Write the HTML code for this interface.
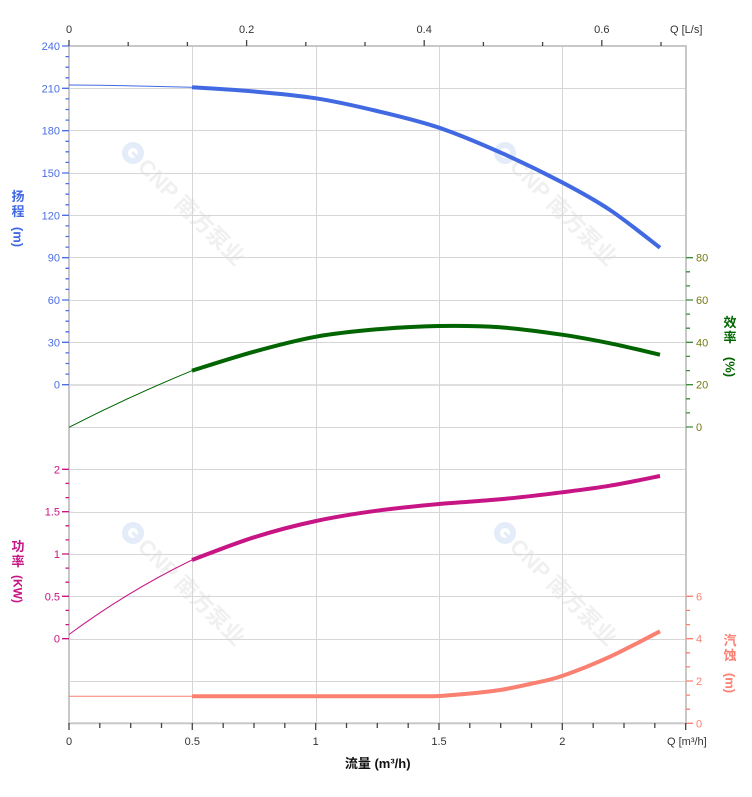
<!DOCTYPE html>
<html><head><meta charset="utf-8"><style>
html,body{margin:0;padding:0;background:#fff;}
svg{display:block;font-family:"Liberation Sans","Noto Sans CJK SC",sans-serif;}
</style></head><body>
<svg width="752" height="797" viewBox="0 0 752 797" xmlns="http://www.w3.org/2000/svg">
<rect width="752" height="797" fill="#fff"/>

<!-- watermarks -->
<g>
<g transform="translate(133,153) rotate(45)"><circle r="11" fill="#e3ecf8"/><circle r="5" fill="#fff"/><rect x="-1" y="-1.5" width="7" height="3" fill="#e3ecf8"/><text x="13" y="8" font-size="22" font-weight="bold" fill="#f0f0f0">CNP 南方泵业</text></g>
<g transform="translate(505,153) rotate(45)"><circle r="11" fill="#e3ecf8"/><circle r="5" fill="#fff"/><rect x="-1" y="-1.5" width="7" height="3" fill="#e3ecf8"/><text x="13" y="8" font-size="22" font-weight="bold" fill="#f0f0f0">CNP 南方泵业</text></g>
<g transform="translate(133,533) rotate(45)"><circle r="11" fill="#e3ecf8"/><circle r="5" fill="#fff"/><rect x="-1" y="-1.5" width="7" height="3" fill="#e3ecf8"/><text x="13" y="8" font-size="22" font-weight="bold" fill="#f0f0f0">CNP 南方泵业</text></g>
<g transform="translate(505,533) rotate(45)"><circle r="11" fill="#e3ecf8"/><circle r="5" fill="#fff"/><rect x="-1" y="-1.5" width="7" height="3" fill="#e3ecf8"/><text x="13" y="8" font-size="22" font-weight="bold" fill="#f0f0f0">CNP 南方泵业</text></g>
</g>

<!-- grid -->
<g stroke="#d6d6d6" stroke-width="1" fill="none">
<path d="M69,88.5H686M69,130.5H686M69,173.5H686M69,215.5H686M69,257.5H686M69,300.5H686M69,342.5H686M69,427.5H686M69,469.5H686M69,512.5H686M69,554.5H686M69,596.5H686M69,639.5H686M69,681.5H686"/>
<path d="M192.5,46V723M316.5,46V723M439.5,46V723M562.5,46V723"/>
</g>
<path d="M69,385H686" stroke="#d6d6d6" stroke-width="1.6"/>
<rect x="69" y="46" width="617" height="677.3" fill="none" stroke="#c8c8c8" stroke-width="2"/>

<!-- head ticks (left, blue) -->
<path stroke="#4a6fe3" stroke-width="1.3" fill="none" d="M62,46H69M65.5,56.6H69M65.5,67.2H69M65.5,77.8H69M62,88.3H69M65.5,98.9H69M65.5,109.5H69M65.5,120.1H69M62,130.7H69M65.5,141.3H69M65.5,151.8H69M65.5,162.4H69M62,173H69M65.5,183.6H69M65.5,194.2H69M65.5,204.8H69M62,215.3H69M65.5,225.9H69M65.5,236.5H69M65.5,247.1H69M62,257.7H69M65.5,268.3H69M65.5,278.8H69M65.5,289.4H69M62,300H69M65.5,310.6H69M65.5,321.2H69M65.5,331.8H69M62,342.3H69M65.5,352.9H69M65.5,363.5H69M65.5,374.1H69M62,384.7H69"/>
<!-- power ticks (left, magenta) -->
<path stroke="#c71585" stroke-width="1.3" fill="none" d="M62,469.3H69M65.5,483.4H69M65.5,497.6H69M62,511.7H69M65.5,525.8H69M65.5,539.9H69M62,554H69M65.5,568.1H69M65.5,582.2H69M62,596.3H69M65.5,610.4H69M65.5,624.6H69M62,638.7H69"/>
<!-- efficiency ticks (right, green) -->
<path stroke="#3c8c3c" stroke-width="1.3" fill="none" d="M686,257.7H693M686,271.8H690M686,285.9H690M686,300H693M686,314.1H690M686,328.2H690M686,342.3H693M686,356.4H690M686,370.6H690M686,384.7H693M686,398.8H690M686,412.9H690M686,427H693"/>
<!-- npsh ticks (right, salmon) -->
<path stroke="#fa8072" stroke-width="1.3" fill="none" d="M686,596.3H693M686,610.4H690M686,624.6H690M686,638.7H693M686,652.8H690M686,666.9H690M686,681H693M686,695.1H690M686,709.2H690M686,723.3H693"/>
<!-- bottom ticks -->
<path stroke="#444" stroke-width="1.3" fill="none" d="M69,723V730M99.8,723V728M130.7,723V728M161.5,723V728M192.3,723V730M223.2,723V728M254,723V728M284.8,723V728M315.7,723V730M346.5,723V728M377.3,723V728M408.2,723V728M439,723V730M469.8,723V728M500.7,723V728M531.5,723V728M562.3,723V730M593.2,723V728M624,723V728M654.8,723V728M685.7,723V730"/>
<!-- top ticks -->
<path stroke="#444" stroke-width="1.3" fill="none" d="M69,46V40M128.2,46V42M187.4,46V42M246.6,46V40M305.8,46V42M365,46V42M424.2,46V40M483.4,46V42M542.6,46V42M601.8,46V40M661,46V42"/>

<!-- curves -->
<!-- head -->
<path d="M69,85 Q130,85.4 192,87.3" stroke="#4169e1" stroke-width="1" fill="none"/>
<path d="M192,87.3 C202.3,88 233.3,89.7 254,91.5 C274.7,93.3 295.5,95.05 316,98.3 C336.5,101.55 356.5,106.1 377,111 C397.5,115.9 418.5,120.8 439,127.7 C459.5,134.6 479.5,143.2 500,152.3 C520.5,161.4 543.7,172.7 562,182.3 C580.3,191.9 593.7,199.1 610,210 C626.3,220.9 651.7,241.4 660,247.7" stroke="#4169e1" stroke-width="4" fill="none"/>
<!-- efficiency -->
<path d="M69,427.3 Q128,397 192,370.7" stroke="#006400" stroke-width="1" fill="none"/>
<path d="M192,370.7 C202.3,367.5 233.3,357.4 254,351.7 C274.7,346 295.5,340.4 316,336.7 C336.5,333 356.5,331.1 377,329.3 C397.5,327.5 418.5,326.3 439,326 C459.5,325.7 479.5,325.85 500,327.3 C520.5,328.75 543.7,332 562,334.7 C580.3,337.4 593.7,340 610,343.3 C626.3,346.6 651.7,352.8 660,354.7" stroke="#006400" stroke-width="4" fill="none"/>
<!-- power -->
<path d="M69,634.5 Q128,591 192,560" stroke="#c71585" stroke-width="1" fill="none"/>
<path d="M192,560 C202.3,556.2 233.3,543.8 254,537.3 C274.7,530.8 295.5,525.4 316,521 C336.5,516.6 356.5,513.5 377,510.7 C397.5,507.9 418.5,505.9 439,504 C459.5,502.1 479.5,501.25 500,499.3 C520.5,497.35 543.7,494.6 562,492.3 C580.3,490 593.7,488.4 610,485.7 C626.3,483 651.7,477.6 660,476" stroke="#c71585" stroke-width="4" fill="none"/>
<!-- npsh -->
<path d="M69,696.3 L192,696.3" stroke="#fa8072" stroke-width="1" fill="none"/>
<path d="M192,696.3 L430,696.3 C443.3,696.3 458.3,694.55 470,693.5 C481.7,692.45 490,691.6 500,690 C510,688.4 519.7,686.3 530,684 C540.3,681.7 548.7,680.55 562,676 C575.3,671.45 593.7,664.15 610,656.7 C626.3,649.25 651.7,635.5 660,631.3" stroke="#fa8072" stroke-width="4" fill="none"/>

<!-- left labels head -->
<g font-size="11" fill="#4a6fe3" text-anchor="end">
<text x="60" y="50">240</text><text x="60" y="92.3">210</text><text x="60" y="134.7">180</text><text x="60" y="177">150</text><text x="60" y="219.3">120</text><text x="60" y="261.7">90</text><text x="60" y="304">60</text><text x="60" y="346.3">30</text><text x="60" y="388.7">0</text>
</g>
<!-- left labels power -->
<g font-size="11" fill="#c71585" text-anchor="end">
<text x="60" y="473.3">2</text><text x="60" y="515.7">1.5</text><text x="60" y="558">1</text><text x="60" y="600.3">0.5</text><text x="60" y="642.7">0</text>
</g>
<!-- right labels efficiency -->
<g font-size="11" fill="#767a10">
<text x="696" y="261.7">80</text><text x="696" y="304">60</text><text x="696" y="346.3">40</text><text x="696" y="388.7">20</text><text x="696" y="431">0</text>
</g>
<!-- right labels npsh -->
<g font-size="11" fill="#fa8072">
<text x="696" y="600.3">6</text><text x="696" y="642.7">4</text><text x="696" y="685">2</text><text x="696" y="727.3">0</text>
</g>
<!-- bottom labels -->
<g font-size="11" fill="#333" text-anchor="middle">
<text x="69" y="745">0</text><text x="192.3" y="745">0.5</text><text x="315.7" y="745">1</text><text x="439" y="745">1.5</text><text x="562.3" y="745">2</text>
</g>
<text x="667" y="745" font-size="11" fill="#333">Q [m³/h]</text>
<text x="377.7" y="768" font-size="13" font-weight="bold" fill="#111" text-anchor="middle">流量 (m³/h)</text>
<!-- top labels -->
<g font-size="11" fill="#333" text-anchor="middle">
<text x="69" y="33">0</text><text x="246.6" y="33">0.2</text><text x="424.2" y="33">0.4</text><text x="601.8" y="33">0.6</text>
</g>
<text x="670" y="33" font-size="11" fill="#333">Q [L/s]</text>

<!-- axis titles -->
<g font-size="13" font-weight="bold" text-anchor="middle">
<g fill="#4169e1">
<text x="18" y="201">扬</text><text x="18" y="216">程</text>
<text transform="translate(13.5,237) rotate(90)" font-size="13">(m)</text>
</g>
<g fill="#c71585">
<text x="18" y="551">功</text><text x="18" y="566">率</text>
<text transform="translate(13.5,589) rotate(90)" font-size="12">(KW)</text>
</g>
<g fill="#006400">
<text x="730" y="327">效</text><text x="730" y="342">率</text>
<text transform="translate(725.5,367) rotate(90)" font-size="13">(%)</text>
</g>
<g fill="#fa8072">
<text x="730" y="645">汽</text><text x="730" y="660">蚀</text>
<text transform="translate(725.5,683) rotate(90)" font-size="13">(m)</text>
</g>
</g>
</svg>
</body></html>
